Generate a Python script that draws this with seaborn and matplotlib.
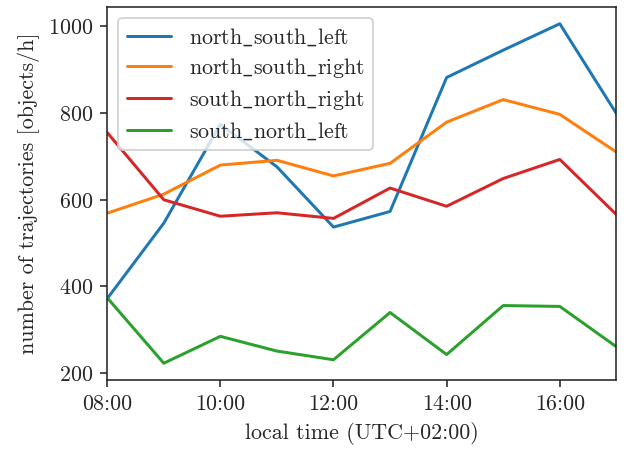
"""Trajectories per hour by direction"""

import matplotlib
matplotlib.use("Agg")
import matplotlib.pyplot as plt
import seaborn as sns
import pandas as pd

hours = [8, 9, 10, 11, 12, 13, 14, 15, 16, 17]
tick_hours = [8, 10, 12, 14, 16]
tick_labels = ["08:00", "10:00", "12:00", "14:00", "16:00"]

north_south_left = [372, 546, 774, 676, 537, 573, 882, 945, 1006, 799]
north_south_right = [569, 613, 680, 691, 655, 684, 779, 831, 797, 710]
south_north_right = [755, 600, 562, 570, 557, 627, 585, 649, 693, 566]
south_north_left = [374, 223, 285, 251, 231, 340, 243, 356, 354, 261]

series = {
    "north_south_left": north_south_left,
    "north_south_right": north_south_right,
    "south_north_right": south_north_right,
    "south_north_left": south_north_left,
}
colors = {
    "north_south_left": "tab:blue",
    "north_south_right": "tab:orange",
    "south_north_right": "tab:red",
    "south_north_left": "tab:green",
}

rows = []
for name, vals in series.items():
    for h, v in zip(hours, vals):
        rows.append({"hour": h, "count": v, "direction": name})
df = pd.DataFrame(rows)

sns.set_style("ticks")
plt.rcParams["font.family"] = ["cmr10", "DejaVu Serif"]
plt.rcParams["mathtext.fontset"] = "cm"
plt.rcParams["axes.formatter.use_mathtext"] = True
plt.rcParams["font.size"] = 11
plt.rcParams["axes.unicode_minus"] = False

fig = plt.figure(figsize=(627 / 144, 451 / 144), dpi=144)
ax = fig.add_axes([0.171, 0.157, 0.812, 0.828])

sns.lineplot(data=df, x="hour", y="count", hue="direction", palette=colors,
             hue_order=list(series.keys()), linewidth=1.5, ax=ax)

ax.set_xlim(hours[0], hours[-1])
ax.set_xticks(tick_hours)
ax.set_xticklabels(tick_labels)
ax.set_xlabel("local time (UTC+02:00)")
ax.set_ylabel("number of trajectories [objects/h]")

# cmr10 has a dot accent at "_", so draw the underscore through mathtext
handles, labels = ax.get_legend_handles_labels()
labels = [l.replace("_", r"$\_$") for l in labels]
ax.legend(handles, labels, loc="upper left", title=None, fontsize=11,
          labelspacing=0.36)

fig.savefig("out.png", dpi=144)
